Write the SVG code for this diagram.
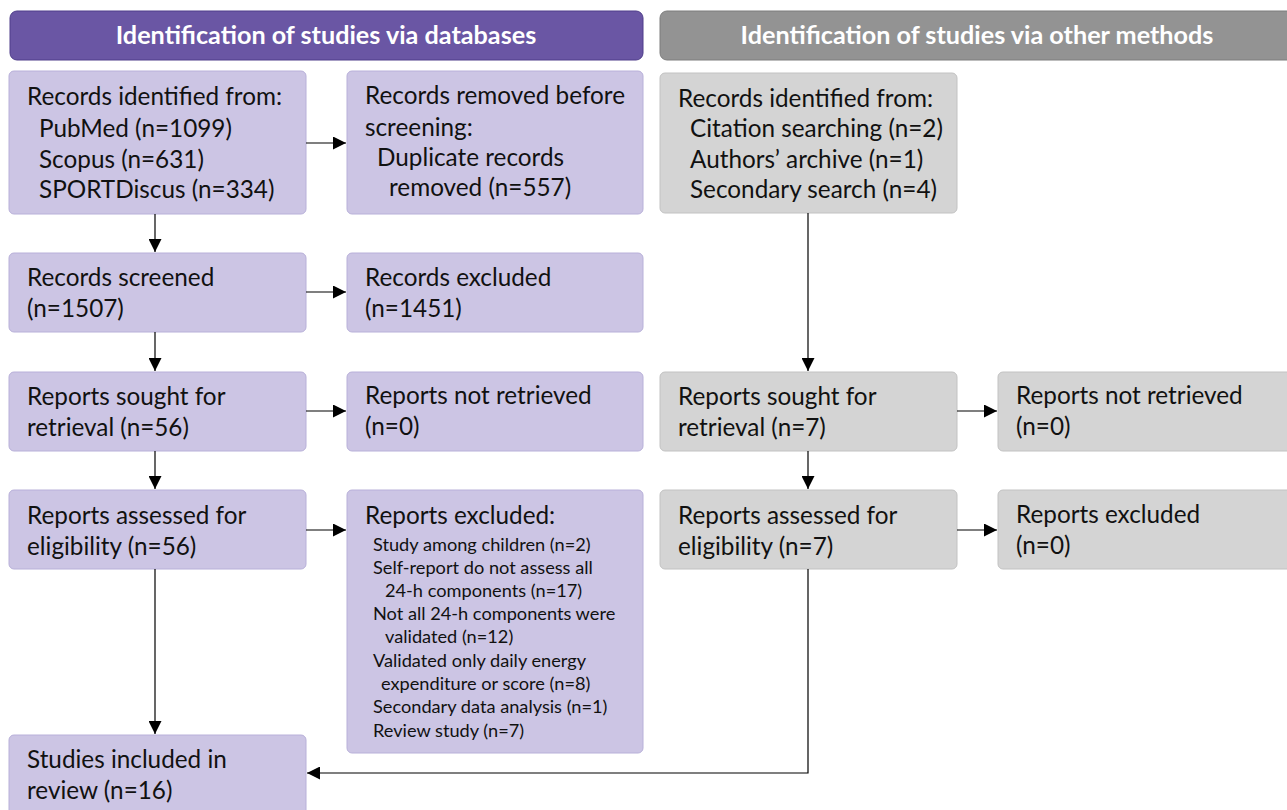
<svg xmlns="http://www.w3.org/2000/svg" width="1287" height="810" viewBox="0 0 1287 810">
<defs>
<style>
.hdrP{fill:#6a56a4;stroke:#4e3d8a;stroke-width:1}
.hdrG{fill:#939393;stroke:#7d7d7d;stroke-width:1}
.bp{fill:#ccc5e4;stroke:#b8b0d9;stroke-width:1}
.bg{fill:#d4d4d4;stroke:#c2c2c2;stroke-width:1}
.ht{font-family:Lato,"Liberation Sans",sans-serif;font-weight:bold;font-size:25.2px;fill:#fff;text-anchor:middle}
.t{font-family:Lato,"Liberation Sans",sans-serif;font-size:24.3px;fill:#111}
.s{font-family:Lato,"Liberation Sans",sans-serif;font-size:18.2px;fill:#111}
.c{stroke:#000;stroke-width:1.2;fill:none;marker-end:url(#ah)}
</style>
<marker id="ah" viewBox="0 0 10 10" refX="10" refY="5" markerWidth="13" markerHeight="13" markerUnits="userSpaceOnUse" orient="auto">
<path d="M0,0 L10,5 L0,10 z" fill="#000"/>
</marker>
</defs>
<rect width="1287" height="810" fill="#fff"/>

<g id="hdr-db"><rect class="hdrP" x="10" y="11" width="633" height="49" rx="7"/><text class="ht" x="326" y="44">Identification of studies via databases</text></g>
<g id="hdr-other"><rect class="hdrG" x="660" y="11" width="640" height="49" rx="7"/><text class="ht" x="977" y="44">Identification of studies via other methods</text></g>

<g id="n-identified"><rect class="bp" x="9" y="71" width="297" height="143" rx="5"/>
<text class="t" x="27" y="105">Records identified from:</text>
<text class="t" x="39" y="137">PubMed (n=1099)</text>
<text class="t" x="39" y="168">Scopus (n=631)</text>
<text class="t" x="39" y="198">SPORTDiscus (n=334)</text></g>

<g id="n-removed"><rect class="bp" x="347" y="71" width="296" height="143" rx="5"/>
<text class="t" x="365" y="104">Records removed before</text>
<text class="t" x="365" y="136">screening:</text>
<text class="t" x="377" y="166">Duplicate records</text>
<text class="t" x="389" y="196">removed (n=557)</text></g>

<g id="n-screened"><rect class="bp" x="9" y="253" width="297" height="79" rx="5"/>
<text class="t" x="27" y="286">Records screened</text>
<text class="t" x="27" y="317">(n=1507)</text></g>

<g id="n-rexcluded"><rect class="bp" x="347" y="253" width="296" height="79" rx="5"/>
<text class="t" x="365" y="286">Records excluded</text>
<text class="t" x="365" y="317">(n=1451)</text></g>

<g id="n-sought"><rect class="bp" x="9" y="372" width="297" height="79" rx="5"/>
<text class="t" x="27" y="405">Reports sought for</text>
<text class="t" x="27" y="436">retrieval (n=56)</text></g>

<g id="n-notret"><rect class="bp" x="347" y="372" width="296" height="79" rx="5"/>
<text class="t" x="365" y="404">Reports not retrieved</text>
<text class="t" x="365" y="435">(n=0)</text></g>

<g id="n-assessed"><rect class="bp" x="9" y="490" width="297" height="79" rx="5"/>
<text class="t" x="27" y="524">Reports assessed for</text>
<text class="t" x="27" y="555">eligibility (n=56)</text></g>

<g id="n-excluded"><rect class="bp" x="347" y="490" width="296" height="263" rx="5"/>
<text class="t" x="365" y="524">Reports excluded:</text>
<text class="s" x="373" y="551">Study among children (n=2)</text>
<text class="s" x="373" y="574">Self-report do not assess all</text>
<text class="s" x="385" y="597">24-h components (n=17)</text>
<text class="s" x="373" y="620">Not all 24-h components were</text>
<text class="s" x="385" y="643">validated (n=12)</text>
<text class="s" x="373" y="667">Validated only daily energy</text>
<text class="s" x="381" y="690">expenditure or score (n=8)</text>
<text class="s" x="373" y="713">Secondary data analysis (n=1)</text>
<text class="s" x="373" y="737">Review study (n=7)</text></g>

<g id="n-included"><rect class="bp" x="9" y="735" width="297" height="85" rx="5"/>
<text class="t" x="27" y="768">Studies included in</text>
<text class="t" x="27" y="799">review (n=16)</text></g>

<g id="n-o-identified"><rect class="bg" x="660" y="73" width="297" height="140" rx="5"/>
<text class="t" x="678" y="107">Records identified from:</text>
<text class="t" x="690" y="137">Citation searching (n=2)</text>
<text class="t" x="690" y="168">Authors’ archive (n=1)</text>
<text class="t" x="690" y="198">Secondary search (n=4)</text></g>

<g id="n-o-sought"><rect class="bg" x="660" y="372" width="297" height="79" rx="5"/>
<text class="t" x="678" y="405">Reports sought for</text>
<text class="t" x="678" y="436">retrieval (n=7)</text></g>

<g id="n-o-notret"><rect class="bg" x="998" y="372" width="300" height="79" rx="5"/>
<text class="t" x="1016" y="404">Reports not retrieved</text>
<text class="t" x="1016" y="435">(n=0)</text></g>

<g id="n-o-assessed"><rect class="bg" x="660" y="490" width="297" height="79" rx="5"/>
<text class="t" x="678" y="524">Reports assessed for</text>
<text class="t" x="678" y="555">eligibility (n=7)</text></g>

<g id="n-o-excluded"><rect class="bg" x="998" y="490" width="300" height="79" rx="5"/>
<text class="t" x="1016" y="523">Reports excluded</text>
<text class="t" x="1016" y="554">(n=0)</text></g>

<g id="connectors">
<path class="c" d="M306,143 H346"/>
<path class="c" d="M155,214 V252"/>
<path class="c" d="M306,292 H346"/>
<path class="c" d="M155,332 V371"/>
<path class="c" d="M306,411 H346"/>
<path class="c" d="M155,451 V489"/>
<path class="c" d="M306,530 H346"/>
<path class="c" d="M155,569 V734"/>
<path class="c" d="M808,213 V371"/>
<path class="c" d="M957,411 H997"/>
<path class="c" d="M808,451 V489"/>
<path class="c" d="M957,530 H997"/>
<path class="c" d="M808,569 V773 H307"/>
</g>
</svg>
